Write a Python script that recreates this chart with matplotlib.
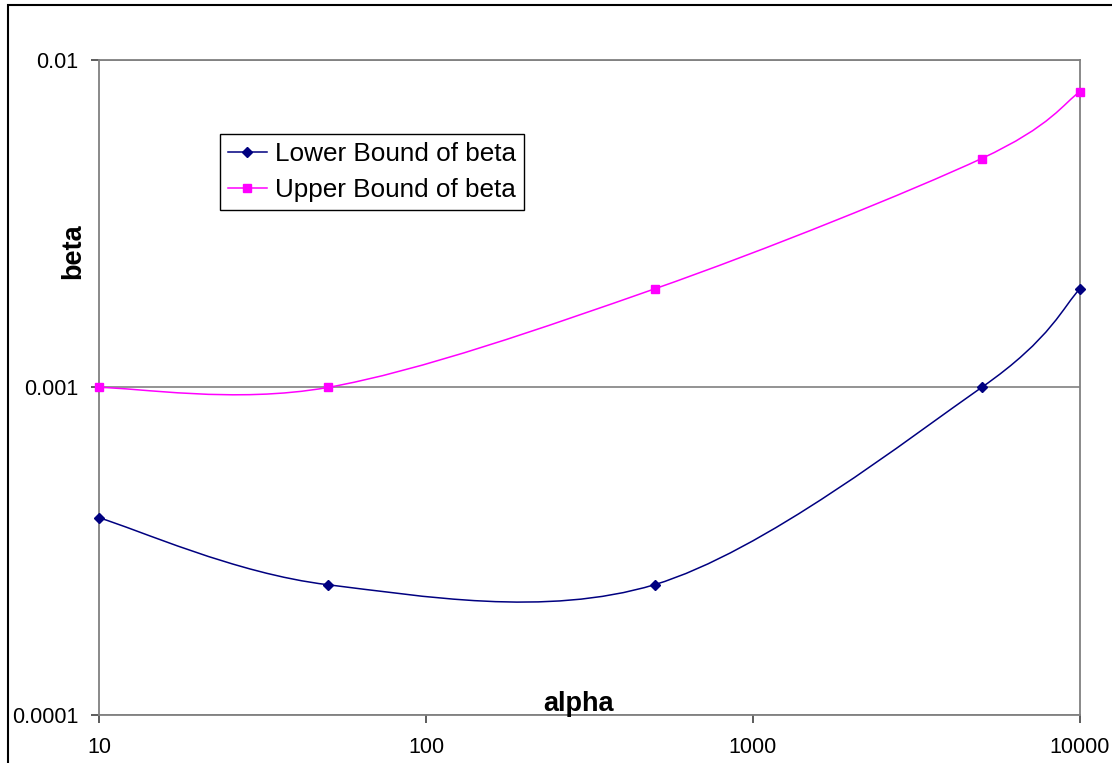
import numpy as np
import matplotlib
matplotlib.use("Agg")
import matplotlib.pyplot as plt
from matplotlib.path import Path
from matplotlib.patches import PathPatch, Rectangle
from matplotlib.lines import Line2D
from matplotlib.ticker import FixedLocator, FixedFormatter, NullLocator

plt.rcParams['font.family'] = ['Liberation Sans', 'DejaVu Sans']

# data
alpha = [10, 50, 500, 5000, 10000]
lower_beta = [0.0004, 0.00025, 0.00025, 0.001, 0.002]
upper_beta = [0.001, 0.001, 0.002, 0.005, 0.008]
x_ticks = [10, 100, 1000, 10000]
x_tick_labels = ["10", "100", "1000", "10000"]
y_ticks = [0.0001, 0.001, 0.01]
y_tick_labels = ["0.0001", "0.001", "0.01"]

NAVY = "#000080"
MAGENTA = "#FF00FF"


def smooth_path(xs, ys):
    """Excel-style smoothed line: cubic Bezier through the points (built in log space)"""
    lx = np.log10(xs)
    ly = np.log10(ys)
    n = len(lx)
    verts = [(xs[0], ys[0])]
    codes = [Path.MOVETO]
    for i in range(n - 1):
        p0 = max(i - 1, 0)
        p3 = min(i + 2, n - 1)
        c1 = (lx[i] + (lx[i + 1] - lx[p0]) / 6, ly[i] + (ly[i + 1] - ly[p0]) / 6)
        c2 = (lx[i + 1] - (lx[p3] - lx[i]) / 6, ly[i + 1] - (ly[p3] - ly[i]) / 6)
        verts += [(10 ** c1[0], 10 ** c1[1]), (10 ** c2[0], 10 ** c2[1]),
                  (xs[i + 1], ys[i + 1])]
        codes += [Path.CURVE4] * 3
    return Path(verts, codes)


fig = plt.figure(figsize=(11.12, 7.63), dpi=100)
ax = fig.add_axes([0.0890, 0.0629, 0.8822, 0.8585])
ax.set_xscale('log')
ax.set_yscale('log')
ax.set_xlim(10, 10000)
ax.set_ylim(0.0001, 0.01)

# curves
ax.add_patch(PathPatch(smooth_path(alpha, lower_beta), fill=False,
                       edgecolor=NAVY, linewidth=1.1, zorder=3))
ax.add_patch(PathPatch(smooth_path(alpha, upper_beta), fill=False,
                       edgecolor=MAGENTA, linewidth=1.1, zorder=3))
ax.plot(alpha, lower_beta, linestyle='none', marker='D', markersize=5.5,
        color=NAVY, zorder=4, clip_on=False)
ax.plot(alpha, upper_beta, linestyle='none', marker='s', markersize=6,
        color=MAGENTA, zorder=4, clip_on=False)

# axes styling
for s in ax.spines.values():
    s.set_color('#808080')
    s.set_linewidth(1.3)
ax.xaxis.set_major_locator(FixedLocator(x_ticks))
ax.xaxis.set_major_formatter(FixedFormatter(x_tick_labels))
ax.yaxis.set_major_locator(FixedLocator(y_ticks))
ax.yaxis.set_major_formatter(FixedFormatter(y_tick_labels))
ax.xaxis.set_minor_locator(NullLocator())
ax.yaxis.set_minor_locator(NullLocator())
ax.tick_params(axis='both', direction='out', length=6, width=1.1,
               color='#303030', labelsize=15.5)
ax.tick_params(axis='y', pad=9)
ax.tick_params(axis='x', pad=10)
ax.yaxis.grid(True, color='#808080', linewidth=1.2)
ax.set_axisbelow(True)

ax.text(0.489, 0.006, "alpha", transform=ax.transAxes, ha='center',
        va='baseline', fontsize=19.5, fontweight='bold')
fig.text(73 / 1112, 1 - 251 / 763, "beta", rotation=90, ha='center',
         va='center', fontsize=19.5, fontweight='bold')

handles = [
    Line2D([], [], color=NAVY, marker='D', markersize=5.5, linewidth=1.1),
    Line2D([], [], color=MAGENTA, marker='s', markersize=6, linewidth=1.1),
]
leg = ax.legend(handles, ["Lower Bound of beta", "Upper Bound of beta"],
                loc='upper left', bbox_to_anchor=(0.1233, 0.887),
                borderaxespad=0, fontsize=18.8, fancybox=False, framealpha=1,
                edgecolor='black', handlelength=1.5, handletextpad=0.3,
                borderpad=0.3, labelspacing=0.48)
leg.get_frame().set_linewidth(1.0)

# outer chart frame
fig.patches.append(Rectangle((8 / 1112, -0.1), 1.2, 1.1 - 5 / 763,
                             transform=fig.transFigure, fill=False,
                             edgecolor='black', linewidth=1.5))

fig.savefig("out.png", dpi=100)
